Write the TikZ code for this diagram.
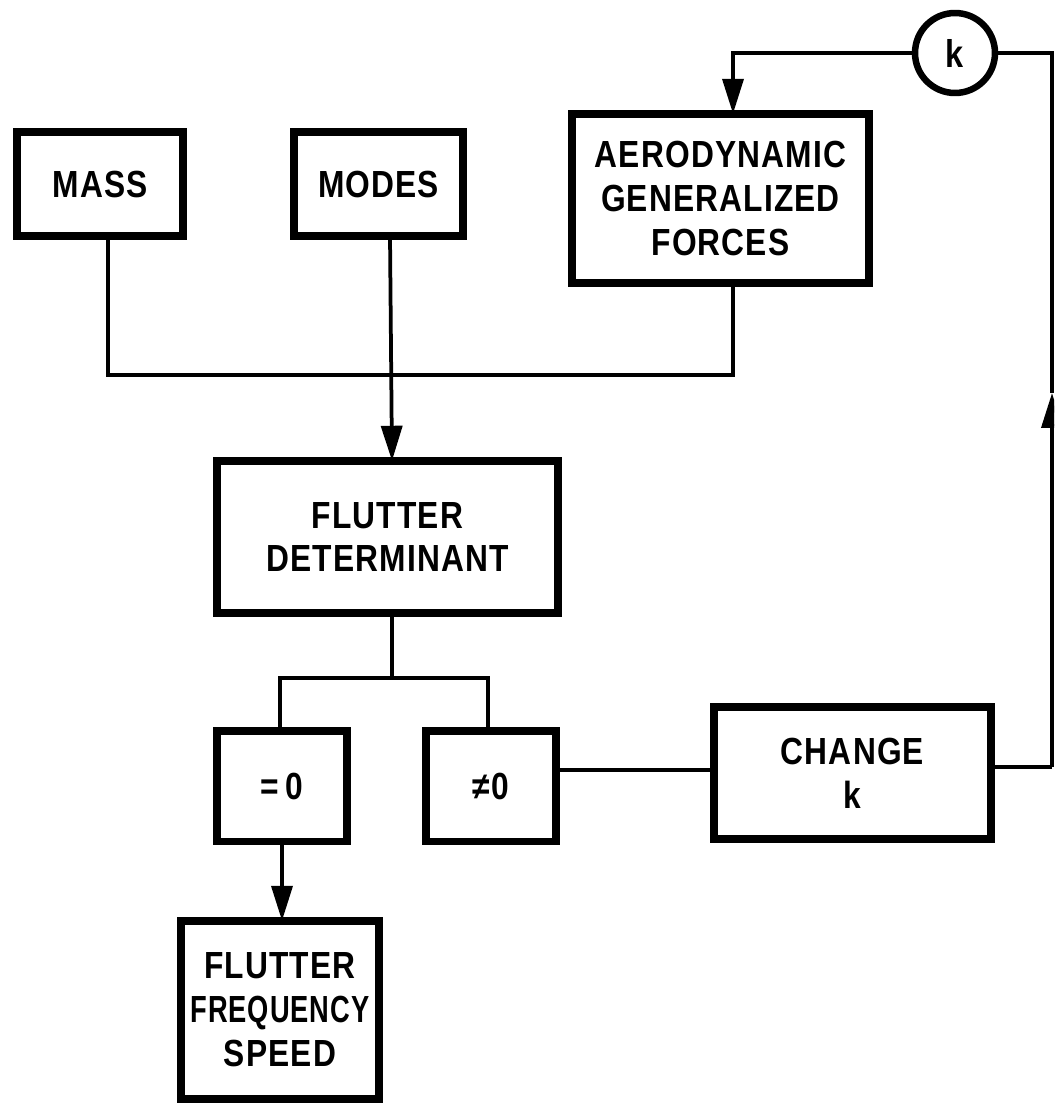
\documentclass[tikz,border=0pt]{standalone}
\usepackage{fontspec}
\newfontfamily\lblfont{Liberation Sans}[FakeStretch=0.84,LetterSpace=3]
\usetikzlibrary{arrows.meta}
\begin{document}
\begin{tikzpicture}[x=0.02cm,y=-0.02cm,
  blk/.style={draw, line width=0.15cm, rectangle, inner sep=0pt, outer sep=0pt, align=center,
     font=\lblfont\bfseries\fontsize{21.5}{25}\selectfont},
  conn/.style={line width=0.075cm},
  arr/.style={conn, -{Triangle[length=0.7cm,width=0.42cm]}},
  kcirc/.style={draw, circle, line width=0.13cm, inner sep=0pt, outer sep=0pt, minimum size=1.6cm,
     font=\lblfont\bfseries\fontsize{22}{25}\selectfont}]
\useasboundingbox (0,0) rectangle (1054,1108);
\clip (0,0) rectangle (1054,1108);
% boxes
\node[blk, minimum width=3.33cm, minimum height=2.09cm] (mass) at (100,184) {MASS};
\node[blk, minimum width=3.39cm, minimum height=2.09cm] (modes) at (378.5,184) {MODES};
\node[blk, minimum width=5.95cm, minimum height=3.39cm] (aero) at (720.5,198.5) {AERODYNAMIC\\GENERALIZED\\FORCES};
\node[blk, minimum width=6.83cm, minimum height=3.05cm] (det) at (387.5,537) {FLUTTER\\DETERMINANT};
\node[blk, minimum width=2.61cm, minimum height=2.21cm] (eq) at (282,786) {=\,0};
\node[blk, minimum width=2.61cm, minimum height=2.21cm] (ne) at (491,786) {≠0};
\node[blk, minimum width=5.55cm, minimum height=2.65cm] (change) at (852.5,773) {CHANGE\\k};
\node[blk, minimum width=3.97cm, minimum height=3.57cm] (ffs) at (280,1010) {FLUTTER\\\scalebox{0.86}[1]{FREQUENCY}\\SPEED};
\node[kcirc] (k) at (955,53) {k};
% junction coordinates
\coordinate (bl) at (108,375);
\coordinate (br) at (733,375);
\coordinate (bm) at (390,375);
\coordinate (sp) at (392,678);
\coordinate (sl) at (280,678);
\coordinate (sr) at (488,678);
\coordinate (rb) at (1052,767);
\coordinate (ra) at (1052,393);
\coordinate (rt) at (1052,53);
\coordinate (tl) at (733,53);
% connectors
\draw[conn] (mass.south -| bl) -- (bl) -- (br) -- (aero.south -| br);
\draw[arr] (modes.south -| bm) -- (det.north -| sp);
\draw[conn] (det.south -| sp) -- (sp);
\draw[conn] (eq.north -| sl) -- (sl) -- (sr) -- (ne.north -| sr);
\draw[arr] (eq.south) -- (ffs.north -| eq.south);
\draw[conn] (ne.east |- 0,770) -- (change.west |- 0,770);
\draw[conn] (change.east |- rb) -- (rb);
\draw[arr] (rb) -- (ra);
\draw[conn] (ra) -- (rt) -- (k.east);
\draw[arr] (k.west) -- (tl) -- (aero.north -| tl);
\end{tikzpicture}
\end{document}
